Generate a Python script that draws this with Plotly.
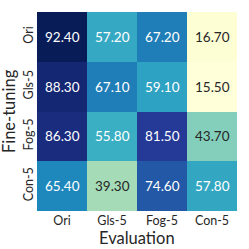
import plotly.graph_objects as go

eval_labels = ["Ori", "Gls-5", "Fog-5", "Con-5"]
ft_labels = ["Ori", "Gls-5", "Fog-5", "Con-5"]
values = [
    [92.40, 57.20, 67.20, 16.70],
    [88.30, 67.10, 59.10, 15.50],
    [86.30, 55.80, 81.50, 43.70],
    [65.40, 39.30, 74.60, 57.80],
]
x_title = "Evaluation"
y_title = "Fine-tuning"

ylgnbu = ["#ffffd9", "#edf8b1", "#c7e9b4", "#7fcdbb", "#41b6c4",
          "#1d91c0", "#225ea8", "#253494", "#081d58"]
cs = [[i / (len(ylgnbu) - 1), c] for i, c in enumerate(ylgnbu)]

flat = [v for row in values for v in row]
zmin, zmax = min(flat), max(flat)

fig = go.Figure(go.Heatmap(
    z=values, x=eval_labels, y=ft_labels,
    colorscale=cs, zmin=zmin, zmax=zmax, showscale=False,
    hoverinfo="skip",
))

font_family = "Lato"
ink = "#262626"
annotations = []
for i, row in enumerate(values):
    for j, v in enumerate(row):
        t = (v - zmin) / (zmax - zmin)
        color = ink if t < 0.40 else "white"
        annotations.append(dict(
            x=eval_labels[j], y=ft_labels[i], text=f"{v:.2f}",
            showarrow=False, font=dict(size=13.5, color=color, family=font_family),
        ))

annotations.append(dict(
    text=x_title, xref="paper", yref="paper", x=0.5, y=-0.135,
    xanchor="center", yanchor="middle", showarrow=False,
    font=dict(size=16.5, color=ink, family=font_family),
))
annotations.append(dict(
    text=y_title, xref="paper", yref="paper", x=-0.142, y=0.5,
    xanchor="center", yanchor="middle", showarrow=False, textangle=-90,
    font=dict(size=16.5, color=ink, family=font_family),
))

fig.update_layout(
    width=249, height=249,
    margin=dict(l=37, r=12, t=12, b=38, autoexpand=False),
    paper_bgcolor="white", plot_bgcolor="white",
    annotations=annotations,
    font=dict(family=font_family, color=ink),
    xaxis=dict(tickfont=dict(size=12.5), ticks="", showgrid=False, zeroline=False,
               automargin=False),
    yaxis=dict(tickfont=dict(size=12.5), ticks="", tickangle=-90, autorange="reversed",
               showgrid=False, zeroline=False, automargin=False, ticklabelstandoff=1),
)

fig.write_html(
    "out.html",
    config={"displayModeBar": False},
    post_script="document.body.style.margin='0';document.body.style.overflow='hidden';",
)
